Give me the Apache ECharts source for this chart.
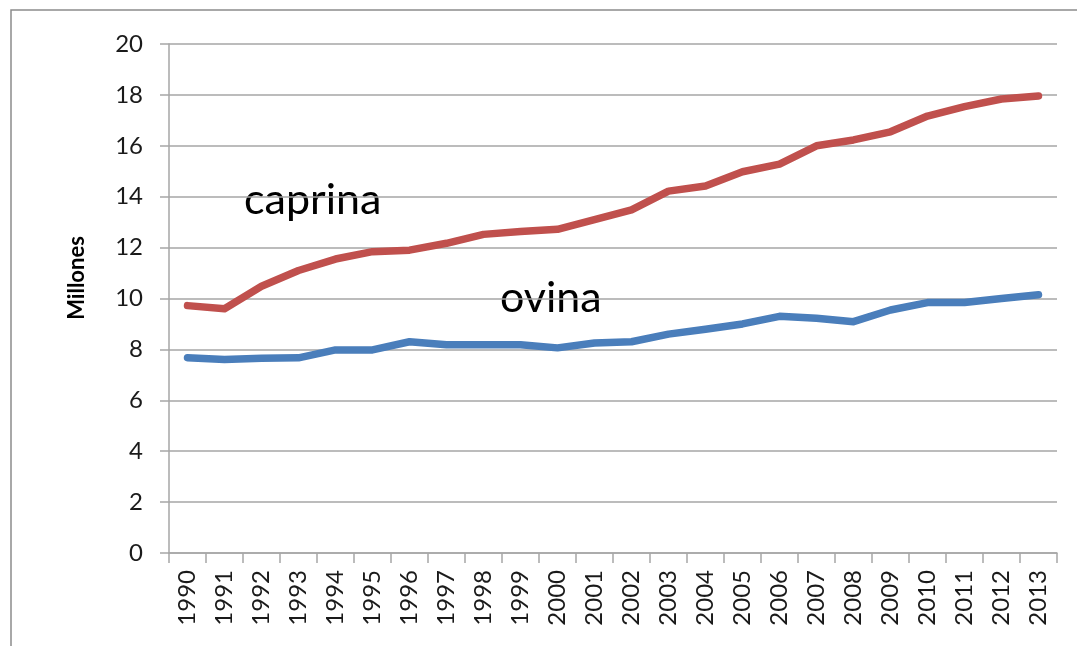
<!DOCTYPE html>
<html>
<head>
<meta charset="utf-8">
<script src="https://cdn.jsdelivr.net/npm/echarts@6/dist/echarts.min.js"></script>
<style>
  html, body { margin: 0; padding: 0; background: #fff; }
  #chart { width: 1077px; height: 646px; }
</style>
</head>
<body>
<div id="chart"></div>
<script>
// años
const years = ['1990', '1991', '1992', '1993', '1994', '1995', '1996', '1997', '1998', '1999', '2000', '2001',
               '2002', '2003', '2004', '2005', '2006', '2007', '2008', '2009', '2010', '2011', '2012', '2013'];

// millones de cabezas
const caprina = [9.72, 9.6, 10.48, 11.1, 11.55, 11.84, 11.9, 12.17, 12.52, 12.63, 12.72, 13.1,
                 13.48, 14.22, 14.42, 14.98, 15.28, 16.0, 16.23, 16.55, 17.17, 17.54, 17.84, 17.96];
const ovina = [7.67, 7.6, 7.65, 7.67, 7.98, 7.98, 8.3, 8.18, 8.18, 8.18, 8.06, 8.25,
               8.3, 8.6, 8.79, 9.0, 9.3, 9.22, 9.09, 9.55, 9.84, 9.84, 10.0, 10.15];

const yTicks = [0, 2, 4, 6, 8, 10, 12, 14, 16, 18, 20];

const font = 'Lato, "Noto Sans", sans-serif';
const chart = echarts.init(document.getElementById('chart'));

chart.setOption({
    animation: false,
    textStyle: { fontFamily: font },
    grid: { left: 169, right: 20, top: 44, bottom: 93 },
    xAxis: {
        type: 'category',
        data: years,
        boundaryGap: true,
        axisLine: { lineStyle: { color: '#a6a6a6', width: 1.5 } },
        axisTick: { show: true, length: 10, lineStyle: { color: '#a6a6a6', width: 1.5 } },
        axisLabel: { rotate: 90, margin: 17, fontSize: 24, color: '#1a1a1a', interval: 0 }
    },
    yAxis: {
        type: 'value',
        min: yTicks[0],
        max: yTicks[yTicks.length - 1],
        interval: 2,
        axisLine: { show: true, lineStyle: { color: '#a6a6a6', width: 1.5 } },
        axisTick: { show: true, length: 9, lineStyle: { color: '#a6a6a6', width: 1.5 } },
        axisLabel: { margin: 26, fontSize: 24, color: '#1a1a1a' },
        splitLine: { lineStyle: { color: '#a6a6a6', width: 1.5 } }
    },
    series: [
        {
            name: 'caprina',
            type: 'line',
            data: caprina,
            symbol: 'none',
            lineStyle: { color: '#c0504d', width: 7.5, cap: 'round', join: 'round' }
        },
        {
            name: 'ovina',
            type: 'line',
            data: ovina,
            symbol: 'none',
            lineStyle: { color: '#4a7ebb', width: 7.5, cap: 'round', join: 'round' }
        }
    ],
    graphic: [
        {
            type: 'rect',
            shape: { x: 11, y: 10, width: 1100, height: 700 },
            style: { fill: 'none', stroke: '#8c8c8c', lineWidth: 1.5 },
            silent: true
        },
        {
            type: 'text',
            x: 77,
            y: 278,
            rotation: Math.PI / 2,
            style: {
                text: 'Millones', fontSize: 22, fontWeight: 'bold', fill: '#000', fontFamily: font,
                align: 'center', verticalAlign: 'middle'
            }
        },
        {
            type: 'text',
            x: 244,
            y: 200,
            style: { text: 'caprina', fontSize: 43, fill: '#000', fontFamily: font, verticalAlign: 'middle' }
        },
        {
            type: 'text',
            x: 500,
            y: 298,
            style: { text: 'ovina', fontSize: 43, fill: '#000', fontFamily: font, verticalAlign: 'middle' }
        }
    ]
});
</script>
</body>
</html>
